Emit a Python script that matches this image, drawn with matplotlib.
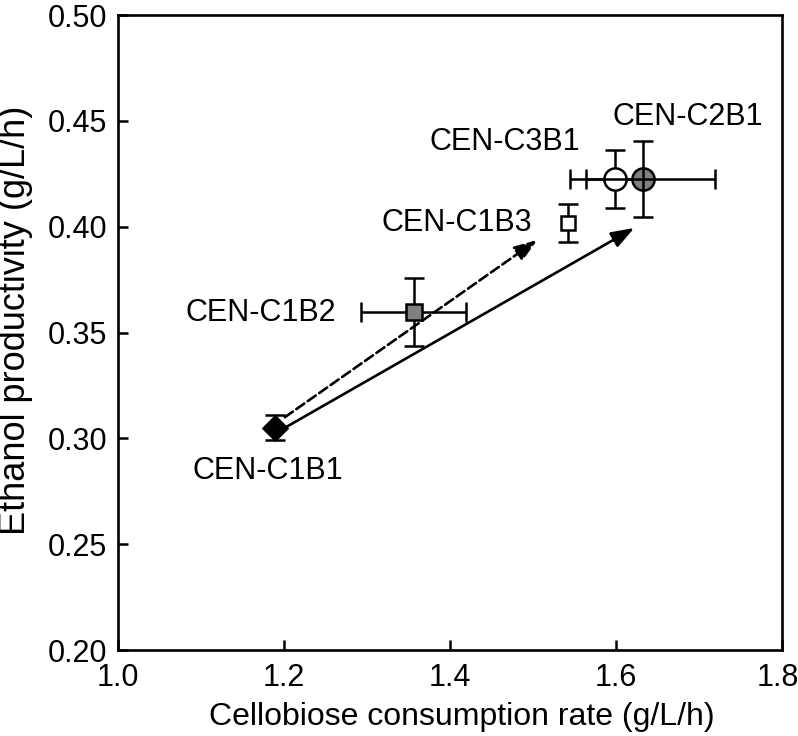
import matplotlib
matplotlib.use("Agg")
import matplotlib.pyplot as plt
import matplotlib.transforms as mtransforms

plt.rcParams['font.family'] = ['Liberation Sans', 'DejaVu Sans']

strains = ["CEN-C1B1", "CEN-C1B2", "CEN-C1B3", "CEN-C3B1", "CEN-C2B1"]
rate = [1.189, 1.356, 1.542, 1.599, 1.632]
rate_err = [0.0, 0.063, 0.0, 0.035, 0.087]
prod = [0.305, 0.3597, 0.4017, 0.4225, 0.4225]
prod_err = [0.006, 0.016, 0.009, 0.0135, 0.0178]
markers = ["D", "s", "s", "o", "o"]
facecolors = ["black", "#808080", "white", "white", "#808080"]
msizes = [12, 11, 9.5, 16, 16]
label_pos = [(1.18, 0.2846), (1.172, 0.3592), (1.408, 0.4017), (1.466, 0.4400), (1.687, 0.4518)]

arrow_start = [(1.201, 0.310), (1.201, 0.305)]
arrow_end = [(1.505, 0.3937), (1.622, 0.3994)]
arrow_styles = ["--", "-"]

FS = 22

fig = plt.figure(figsize=(7.98, 7.36), dpi=100)
ax = fig.add_axes([0.1479, 0.1168, 0.8321, 0.8628])

for i in range(len(strains)):
    ax.errorbar(rate[i], prod[i], xerr=rate_err[i] if rate_err[i] > 0 else None,
                yerr=prod_err[i], fmt='none', ecolor='black', elinewidth=1.8,
                capsize=7, capthick=1.8, zorder=5 if i == 4 else 3)
    ax.plot(rate[i], prod[i], marker=markers[i], markersize=msizes[i],
            markerfacecolor=facecolors[i], markeredgecolor='black',
            markeredgewidth=1.8, linestyle='none', zorder=4)
    ax.text(label_pos[i][0], label_pos[i][1], strains[i], fontsize=FS,
            ha='center', va='center')

for (s, e, ls) in zip(arrow_start, arrow_end, arrow_styles):
    ax.annotate("", xy=e, xytext=s,
                arrowprops=dict(arrowstyle='-|>,head_length=1.4,head_width=0.5',
                                color='black', lw=1.9, linestyle=ls,
                                shrinkA=0, shrinkB=0), zorder=6)

ax.set_xlim(1.0, 1.8)
ax.set_ylim(0.20, 0.50)
ax.set_xticks([1.0, 1.2, 1.4, 1.6, 1.8])
ax.set_yticks([0.20, 0.25, 0.30, 0.35, 0.40, 0.45, 0.50])
ax.set_xticklabels(["1.0", "1.2", "1.4", "1.6", "1.8"])
ax.set_yticklabels(["0.20", "0.25", "0.30", "0.35", "0.40", "0.45", "0.50"])
ax.tick_params(direction='in', length=7, width=1.8, labelsize=FS)
ax.tick_params(axis='x', pad=9)
ax.tick_params(axis='y', pad=8)
for sp in ax.spines.values():
    sp.set_linewidth(1.9)

# nudge the last x tick label slightly left so it stays inside the figure
lab = ax.get_xticklabels()[-1]
lab.set_transform(lab.get_transform() + mtransforms.ScaledTranslation(-4/100, 0, fig.dpi_scale_trans))

fig.text(462/798, 1 - 717/736, "Cellobiose consumption rate (g/L/h)", fontsize=23,
         ha='center', va='center')
fig.text(16/798, 1 - 320/736, "Ethanol productivity (g/L/h)", fontsize=26,
         ha='center', va='center', rotation=90)

fig.savefig("out.png", dpi=100)
